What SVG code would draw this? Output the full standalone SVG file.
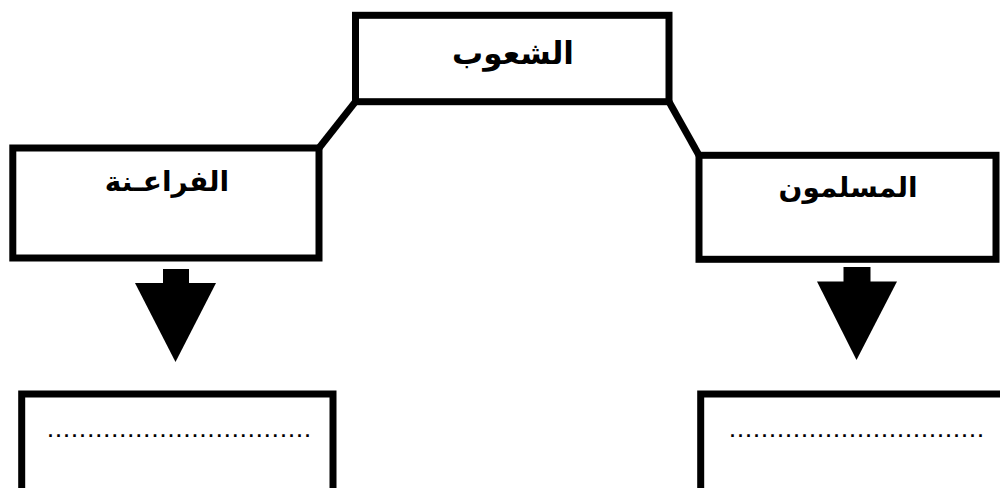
<svg xmlns="http://www.w3.org/2000/svg" width="1000" height="488" viewBox="0 0 1000 488">
<style>
.box{fill:#fff;stroke:#000;stroke-width:7;stroke-linejoin:miter}
.lbl{font-family:"Liberation Sans","DejaVu Sans",sans-serif;font-weight:bold;font-size:28px;fill:#000;text-anchor:middle}
.big{font-size:31px}
.dots{font-family:"Liberation Sans","DejaVu Sans",sans-serif;font-weight:bold;font-size:18px;fill:#000}
.conn{fill:none;stroke:#000;stroke-width:7}
.arrow{fill:#000;stroke:none}
</style>
<rect width="1000" height="488" fill="#fff"/>
<g id="connectors">
<polyline class="conn" points="355.5,101.7 319,148"/>
<polyline class="conn" points="669,101.7 699,155.3"/>
<g id="arrow-left" class="arrow">
<rect x="163" y="269" width="26" height="15"/>
<polygon points="135,283 216,283 175.5,362"/>
</g>
<g id="arrow-right" class="arrow">
<rect x="843.5" y="267" width="27" height="15"/>
<polygon points="817,281.5 897,281.5 856.5,360"/>
</g>
</g>
<g id="node-peoples">
<rect class="box" x="355.5" y="15.3" width="313.5" height="86.4"/>
<text class="lbl big" x="513" y="64" direction="rtl">الشعوب</text>
</g>
<g id="node-pharaohs">
<rect class="box" x="12.8" y="148" width="306.2" height="110"/>
<text class="lbl" x="167" y="191" direction="rtl">الفراعـنة</text>
</g>
<g id="node-muslims">
<rect class="box" x="699" y="155.3" width="297" height="104"/>
<text class="lbl" x="848" y="197" direction="rtl">المسلمون</text>
</g>
<g id="node-answer-left">
<rect class="box" x="21.7" y="394" width="311.3" height="130"/>
<text class="dots" x="48" y="437" textLength="262" lengthAdjust="spacing">.................................</text>
</g>
<g id="node-answer-right">
<rect class="box" x="700.7" y="394" width="330" height="130"/>
<text class="dots" x="730" y="437" textLength="253" lengthAdjust="spacing">................................</text>
</g>
</svg>
